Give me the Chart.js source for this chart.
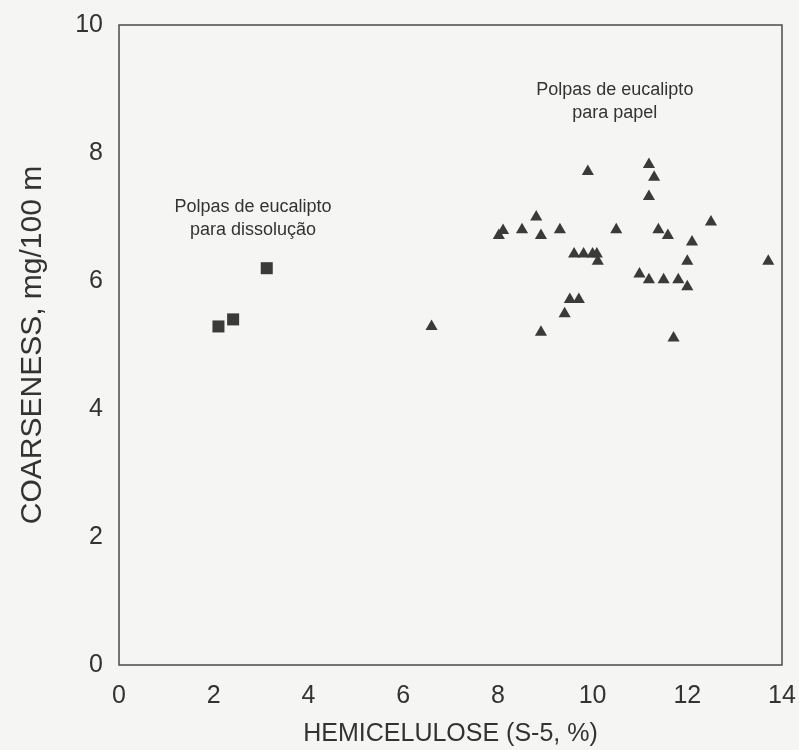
<!DOCTYPE html>
<html>
<head>
<meta charset="utf-8">
<script src="https://cdn.jsdelivr.net/npm/chart.js@4/dist/chart.umd.min.js"></script>
<style>
  html, body { margin: 0; padding: 0; background: #f5f5f3; }
  #wrap { width: 799px; height: 750px; }
</style>
</head>
<body>
<div id="wrap"><canvas id="c" width="799" height="750"></canvas></div>
<script>
// Hemicelulose (S-5, %) vs. coarseness (mg/100 m) for eucalyptus pulps
const xTicks = [0, 2, 4, 6, 8, 10, 12, 14];
const yTicks = [0, 2, 4, 6, 8, 10];

// Polpas de eucalipto para dissolução
const dissolucaoX = [2.10, 2.41, 3.12];
const dissolucaoY = [5.29, 5.40, 6.20];

// Polpas de eucalipto para papel
const papelX = [6.60, 8.02, 8.11, 8.51, 8.81, 8.91, 9.31, 9.90, 9.61, 9.81, 10.00,
                10.09, 10.11, 9.52, 9.71, 9.41, 8.91, 10.50, 11.19, 11.30, 11.19, 11.39,
                11.59, 12.10, 12.50, 12.00, 13.71, 10.99, 11.19, 11.50, 11.81, 12.00, 11.71];
const papelY = [5.29, 6.71, 6.79, 6.80, 7.00, 6.71, 6.80, 7.71, 6.42, 6.42, 6.42,
                6.42, 6.31, 5.71, 5.71, 5.49, 5.20, 6.80, 7.82, 7.62, 7.32, 6.80,
                6.71, 6.61, 6.92, 6.31, 6.31, 6.11, 6.02, 6.02, 6.02, 5.91, 5.11];

// Group captions, anchored in data units
const groupLabels = [
  { x: 2.83, y: 7.15, lines: ['Polpas de eucalipto', 'para dissolução'] },
  { x: 10.47, y: 8.98, lines: ['Polpas de eucalipto', 'para papel'] }
];

const toPoints = (xs, ys) => xs.map((x, i) => ({ x, y: ys[i] }));

const INK = '#333333';
const MARK = '#3a3a3a';
const FONT = "'Liberation Sans', Arial, sans-serif";

const frameAndCaptions = {
  id: 'frameAndCaptions',
  beforeDraw(chart) {
    const ctx = chart.ctx;
    ctx.save();
    ctx.fillStyle = '#f5f5f3';
    ctx.fillRect(0, 0, chart.width, chart.height);
    ctx.restore();
  },
  afterDatasetsDraw(chart) {
    const { ctx, chartArea: a, scales } = chart;
    ctx.save();
    ctx.strokeStyle = '#4a4a4a';
    ctx.lineWidth = 1.5;
    ctx.strokeRect(a.left, a.top, a.right - a.left, a.bottom - a.top);
    ctx.fillStyle = INK;
    ctx.font = '18px ' + FONT;
    ctx.textAlign = 'center';
    ctx.textBaseline = 'middle';
    groupLabels.forEach(g => {
      const px = scales.x.getPixelForValue(g.x);
      const py = scales.y.getPixelForValue(g.y);
      g.lines.forEach((t, i) => ctx.fillText(t, px, py + i * 23));
    });
    ctx.restore();
  }
};

new Chart(document.getElementById('c'), {
  type: 'scatter',
  data: {
    datasets: [
      {
        label: 'Polpas de eucalipto para dissolução',
        data: toPoints(dissolucaoX, dissolucaoY),
        pointStyle: 'rect',
        pointRadius: 8.5,
        backgroundColor: MARK,
        borderWidth: 0
      },
      {
        label: 'Polpas de eucalipto para papel',
        data: toPoints(papelX, papelY),
        pointStyle: 'triangle',
        pointRadius: 7,
        backgroundColor: MARK,
        borderWidth: 0
      }
    ]
  },
  options: {
    responsive: false,
    animation: false,
    events: [],
    layout: { padding: { top: 25, right: 17, left: 0, bottom: 0 } },
    plugins: { legend: { display: false }, tooltip: { enabled: false } },
    scales: {
      x: {
        type: 'linear',
        min: 0, max: 14,
        afterBuildTicks: s => { s.ticks = xTicks.map(v => ({ value: v })); },
        afterFit: s => { s.height = 85; s.paddingLeft = 0; s.paddingRight = 0; },
        grid: { display: false, drawTicks: false },
        border: { display: false },
        ticks: { color: INK, font: { family: FONT, size: 25 }, padding: 16 },
        title: {
          display: true,
          text: 'HEMICELULOSE (S-5, %)',
          color: INK,
          font: { family: FONT, size: 25 },
          padding: { top: 0, bottom: 1 }
        }
      },
      y: {
        type: 'linear',
        min: 0, max: 10,
        afterBuildTicks: s => { s.ticks = yTicks.map(v => ({ value: v })); },
        afterFit: s => { s.width = 119; s.paddingTop = 0; s.paddingBottom = 0; },
        grid: { display: false, drawTicks: false },
        border: { display: false },
        ticks: { color: INK, font: { family: FONT, size: 25 }, padding: 16 },
        title: {
          display: true,
          text: 'COARSENESS, mg/100 m',
          color: INK,
          font: { family: FONT, size: 30 },
          padding: { top: 15, bottom: 0 }
        }
      }
    }
  },
  plugins: [frameAndCaptions]
});
</script>
</body>
</html>
